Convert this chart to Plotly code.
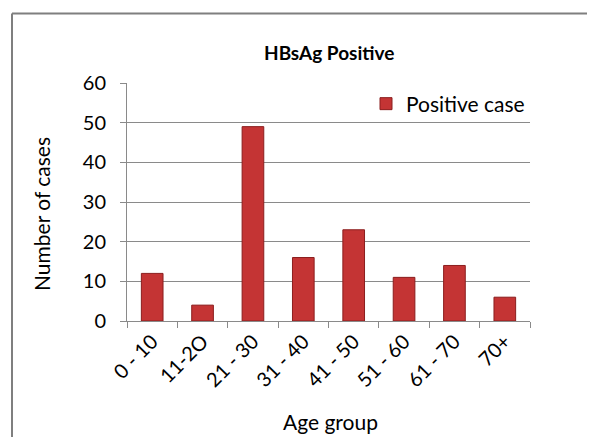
import plotly.graph_objects as go

categories = ["0 - 10", "11-2O", "21 - 30", "31 - 40", "41 - 50", "51 - 60", "61 - 70", "70+"]
positive_cases = [12, 4, 49, 16, 23, 11, 14, 6]
y_ticks = [0, 10, 20, 30, 40, 50, 60]

OFF = 8  # page body margin offset
W, H = 595 - OFF, 437 - OFF
L, R, T, B = 127 - OFF, 530 - OFF, 83 - OFF, 321 - OFF
pw, ph = R - L, B - T


def px(x):
    return (x - OFF - L) / pw


def py(y):
    return (B - (y - OFF)) / ph


FONT = "Lato, Carlito, Calibri, 'Noto Sans', sans-serif"
GRAY = "#8a8a8a"

fig = go.Figure()
fig.add_trace(go.Bar(
    x=categories, y=positive_cases, name="Positive case",
    marker=dict(color="#C43434", line=dict(color="#8B1E1E", width=1)),
    showlegend=True,
))

fig.update_layout(
    width=W, height=H,
    margin=dict(l=L, r=W - R, t=T, b=H - B, autoexpand=False),
    paper_bgcolor="white", plot_bgcolor="white",
    font=dict(family=FONT, size=20, color="#000000"),
    bargap=0.57,
    showlegend=True,
    legend=dict(x=px(530), xanchor="right", y=py(104), yanchor="middle",
                bgcolor="rgba(0,0,0,0)", font=dict(size=21),
                itemwidth=30, borderwidth=0),
    xaxis=dict(
        type="category", showline=True, linecolor=GRAY, linewidth=1,
        ticks="outside", ticklen=6, tickcolor=GRAY, tickson="boundaries",
        tickangle=-45, tickfont=dict(size=20), showgrid=False,
        automargin=False,
    ),
    yaxis=dict(
        range=[0, 60], tickvals=y_ticks, showline=True, linecolor=GRAY, linewidth=1,
        ticks="outside", ticklen=6, tickcolor=GRAY, ticklabelstandoff=10,
        showgrid=True, gridcolor=GRAY, gridwidth=1, tickfont=dict(size=20),
        automargin=False, zeroline=False,
    ),
    annotations=[
        dict(text="<b>HBsAg Positive</b>", x=px(329), y=py(52), xref="paper", yref="paper",
             showarrow=False, xanchor="center", yanchor="middle", font=dict(size=19)),
        dict(text="Number of cases", x=px(41), y=py(214), xref="paper", yref="paper",
             showarrow=False, xanchor="center", yanchor="middle", textangle=-90,
             font=dict(size=21)),
        dict(text="Age group", x=px(330), y=py(421), xref="paper", yref="paper",
             showarrow=False, xanchor="center", yanchor="middle", font=dict(size=21)),
    ],
    shapes=[
        dict(type="line", xref="paper", yref="paper", x0=px(12), x1=px(600),
             y0=py(13.5), y1=py(13.5), line=dict(color="#7f7f7f", width=2)),
        dict(type="line", xref="paper", yref="paper", x0=px(12), x1=px(12),
             y0=py(13.5), y1=py(440), line=dict(color="#7f7f7f", width=2)),
    ],
)

fig.write_html("out.html")
